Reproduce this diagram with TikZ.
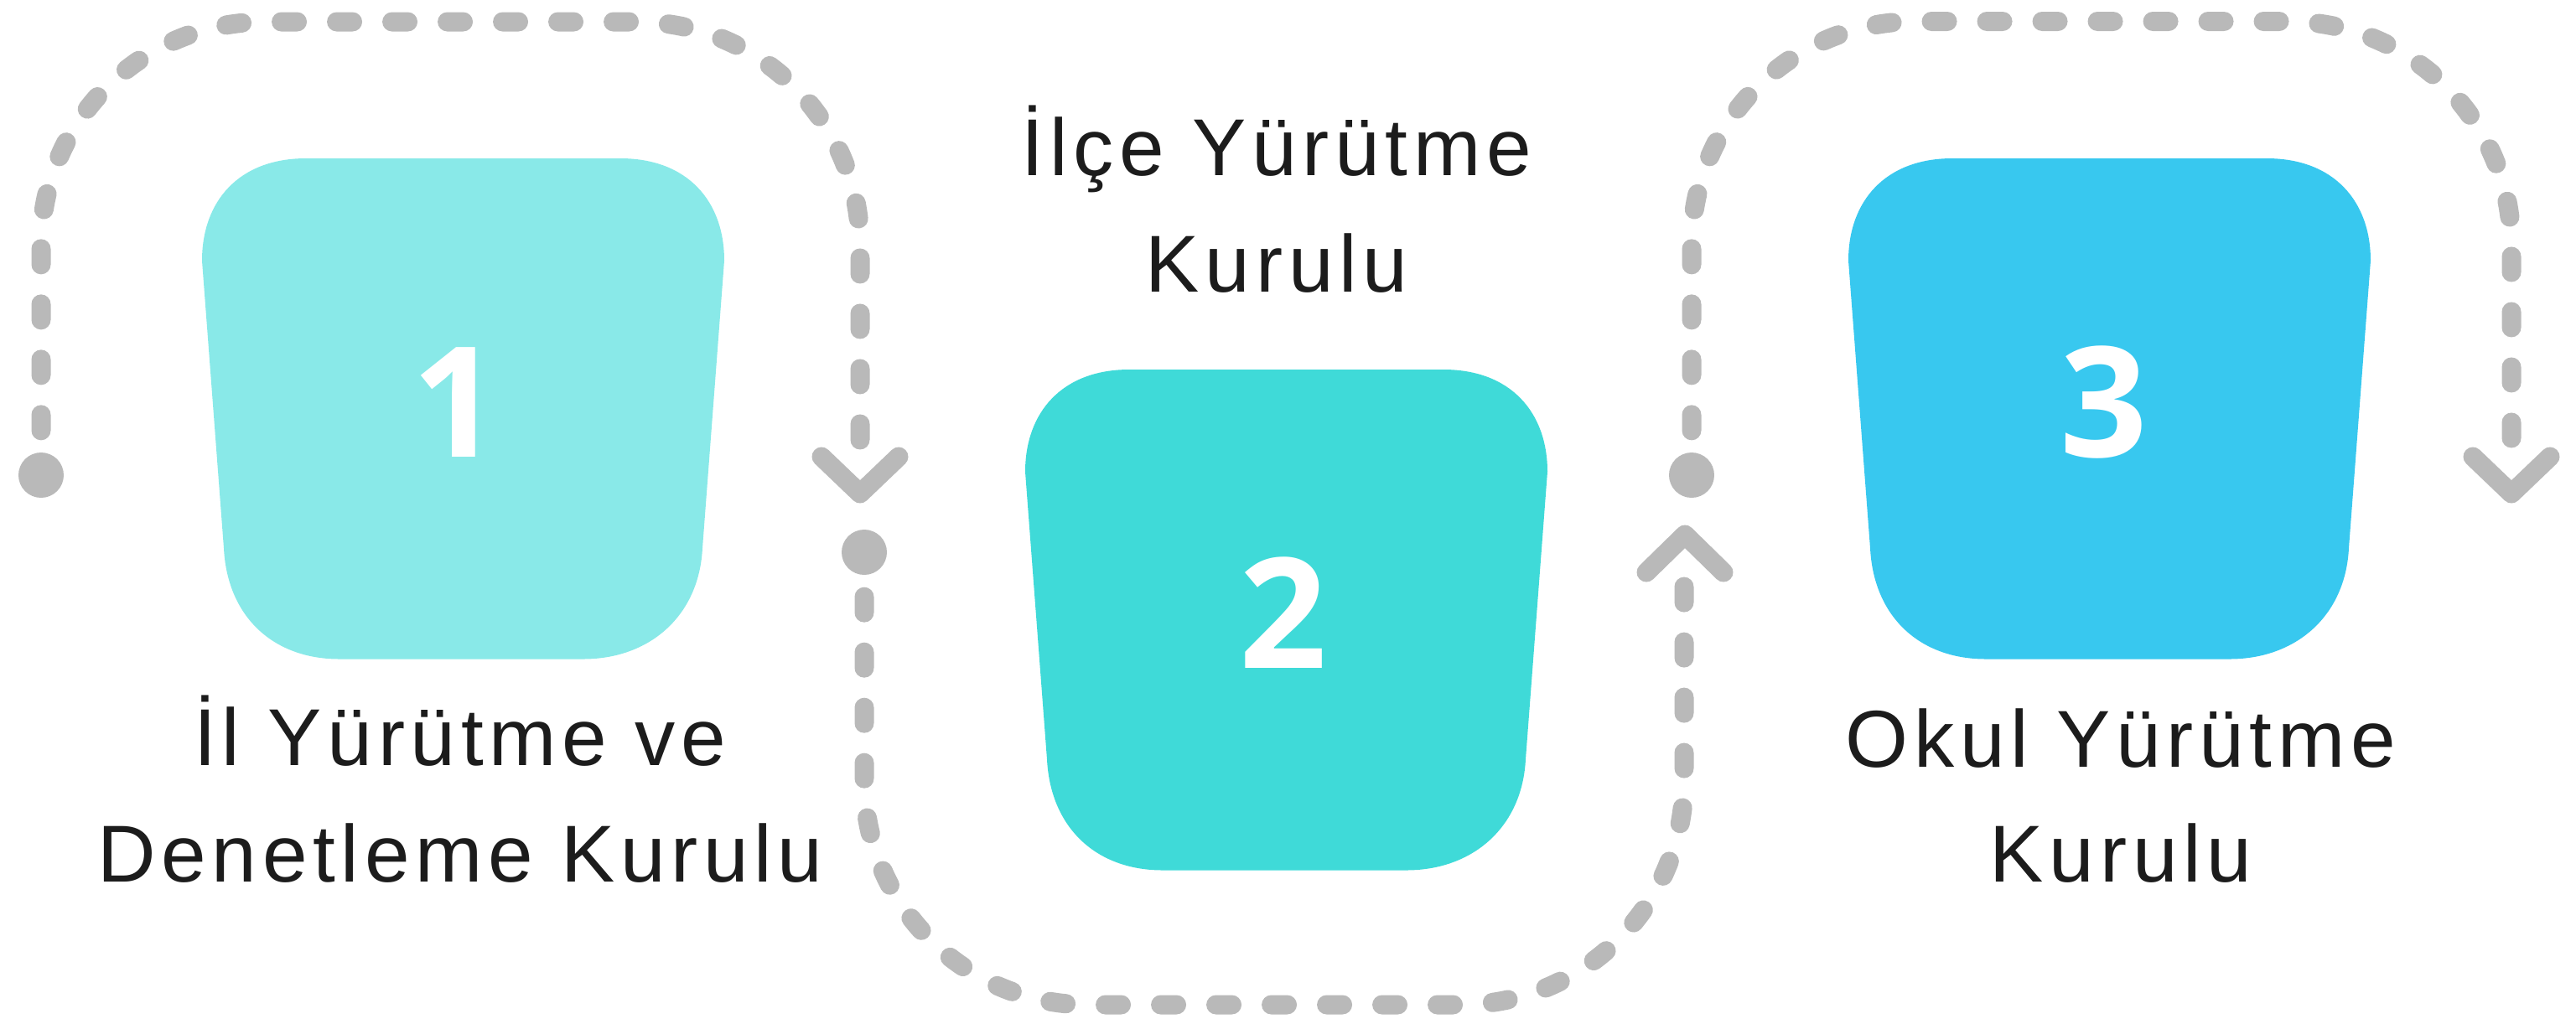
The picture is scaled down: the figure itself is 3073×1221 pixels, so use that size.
\documentclass[tikz,border=0pt]{standalone}
\usepackage{fontspec}
\setmainfont{Liberation Sans}
\newfontfamily\lblfont[LetterSpace=7]{Liberation Sans}
\newfontfamily\numfont{Open Sans}
\usetikzlibrary{calc}
\definecolor{dashgray}{HTML}{B9B9B9}
\definecolor{cyanA}{HTML}{89E9E8}
\definecolor{cyanB}{HTML}{3FDAD8}
\definecolor{cyanC}{HTML}{38C8EF}
\definecolor{txt}{HTML}{1C1C1C}
\begin{document}
\begin{tikzpicture}[x=0.3pt,y=-0.3pt,
  dashline/.style={draw=dashgray, line width=6.9pt, line cap=round, dash pattern=on 5.7pt off 14.1pt, rounded corners=80pt},
  chev/.style={draw=dashgray, line width=6.9pt, line cap=round, line join=round},
  dotn/.style={circle, fill=dashgray, minimum size=16.2pt, inner sep=0pt},
  digit/.style={text=white, font=\numfont\bfseries\fontsize{55}{55}\selectfont, inner sep=0pt},
  lbl/.style={text=txt, font=\lblfont\fontsize{28.9}{41.7}\selectfont, inner sep=0pt, anchor=base},
  cup/.pic={\fill[pic actions] (365,189) -- (740,189) .. controls (820,189) and (864,240) .. (864,311) -- (838,654) .. controls (834,735) and (775,786.5) .. (695.5,786.5) -- (405,786.5) .. controls (325,786.5) and (271,735) .. (267,654) -- (241,311) .. controls (241,240) and (285,189) .. (365,189) -- cycle;}
]
\useasboundingbox (0,0) rectangle (3073,1221);

% shapes
\pic[fill=cyanA] at (0,0) {cup};
\pic[fill=cyanB] at (982,252) {cup};
\pic[fill=cyanC] at (1964,0) {cup};

% digits
\node[digit] (n1) at (544,480) {1};
\node[digit] (n2) at (1531,731) {2};
\node[digit] (n3) at (2510,480) {3};

% labels
\node[lbl] (t1a) at (549,913) {İl Yürütme ve};
\node[lbl] (t1b) at (549,1052) {Denetleme Kurulu};
\node[lbl] (t2a) at (1523,209) {İlçe Yürütme};
\node[lbl] (t2b) at (1523,348) {Kurulu};
\node[lbl] (t3a) at (2530,915) {Okul Yürütme};
\node[lbl] (t3b) at (2530,1052) {Kurulu};

% loop 1
\node[dotn] (d1) at (49,567) {};
\coordinate (k1a) at (49,26);
\coordinate (k1b) at (1026,26);
\coordinate (e1) at (1026,525.5);
\coordinate (c1) at (1026,589);
\draw[dashline] ([yshift=7.65pt]d1.north) -- (k1a) -- (k1b) -- (e1);
\draw[chev] ($(c1)+(-46,-44)$) -- (c1) -- ($(c1)+(46,-44)$);

% loop 2
\node[dotn] (d2) at (1031,659) {};
\coordinate (k2a) at (1031,1199);
\coordinate (k2b) at (2009,1199);
\coordinate (e2) at (2009,700);
\coordinate (c2) at (2010,638);
\draw[dashline] ([yshift=-7.65pt]d2.south) -- (k2a) -- (k2b) -- (e2);
\draw[chev] ($(c2)+(-46,45)$) -- (c2) -- ($(c2)+(46,45)$);

% loop 3
\node[dotn] (d3) at (2018,567) {};
\coordinate (k3a) at (2018,25.5);
\coordinate (k3b) at (2996,25.5);
\coordinate (e3) at (2996,525.5);
\coordinate (c3) at (2996,589);
\draw[dashline] ([yshift=7.65pt]d3.north) -- (k3a) -- (k3b) -- (e3);
\draw[chev] ($(c3)+(-46,-44)$) -- (c3) -- ($(c3)+(46,-44)$);
\end{tikzpicture}
\end{document}
